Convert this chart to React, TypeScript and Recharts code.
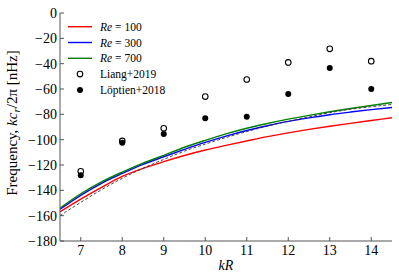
import { ComposedChart, Line, Scatter, XAxis, YAxis, Label } from "recharts";

// model curves sampled along kR
const kGrid = [6.5, 7, 7.5, 8, 8.5, 9, 9.5, 10, 10.5, 11, 11.5, 12, 12.5, 13, 13.5, 14, 14.5];
const re100 = [-157, -147, -137.7, -129, -122.7, -117.3, -112.5, -108.2, -104.5, -101, -97.6, -94.6, -91.9, -89.4, -87.1, -84.9, -82.7];
const re300 = [-155, -144, -134.5, -126.7, -119.5, -113.5, -107.7, -102.2, -97.2, -92.8, -89, -85.6, -82.8, -80.3, -78.2, -76.3, -74.6];
const re700 = [-154, -142.7, -133.3, -125.6, -118.5, -112.4, -106, -100.5, -95.4, -91, -87.2, -83.8, -80.8, -78, -75.4, -73, -70.7];
const refDashed = [-160, -149.5, -139.5, -130.5, -122.6, -115.6, -109, -103.5, -98.3, -93.6, -89.3, -85.5, -82, -78.7, -76, -74, -72.2];

// observations
const kObs = [7, 8, 9, 10, 11, 12, 13, 14];
const liang2019 = [-125, -101, -91, -66, -52.5, -39, -28.3, -38];
const loptien2018 = [-128, -102.5, -95.5, -83, -82, -64, -43.4, -60];

const xTicks = [7, 8, 9, 10, 11, 12, 13, 14];
const yTicks = [0, -20, -40, -60, -80, -100, -120, -140, -160, -180];

const FONT = "'Liberation Serif', 'DejaVu Serif', serif";
const AXIS = "#555";
const TICK_LEN = 4;

const pts = (xs: number[], ys: number[]) => xs.map((x, i) => ({ x, y: ys[i] }));
const fmt = (v: number) => (v < 0 ? "\u2212" + Math.abs(v) : String(v));

function BottomTick({ x, y, payload }: any) {
  return (
    <g>
      <line x1={x} y1={y} x2={x} y2={y - TICK_LEN} stroke={AXIS} />
      <text x={x} y={y + 4} dy="0.71em" textAnchor="middle" fontFamily={FONT} fontSize={14} fill="#000">
        {payload.value}
      </text>
    </g>
  );
}

function LeftTick({ x, y, payload }: any) {
  return (
    <g>
      <line x1={x} y1={y} x2={x + TICK_LEN} y2={y} stroke={AXIS} />
      <text x={x - 3} y={y} dy="0.35em" textAnchor="end" fontFamily={FONT} fontSize={14} fill="#000">
        {fmt(payload.value)}
      </text>
    </g>
  );
}

function TopTick({ x, y }: any) {
  return <line x1={x} y1={y} x2={x} y2={y + TICK_LEN} stroke={AXIS} />;
}

function RightTick({ x, y }: any) {
  return <line x1={x} y1={y} x2={x - TICK_LEN} y2={y} stroke={AXIS} />;
}

function OpenDot({ cx, cy }: any) {
  return <circle cx={cx} cy={cy} r={2.8} fill="#fff" stroke="#000" strokeWidth={1.1} />;
}

function FilledDot({ cx, cy }: any) {
  return <circle cx={cx} cy={cy} r={3} fill="#000" />;
}

function YLabel({ viewBox }: any) {
  const cx = 12;
  const cy = viewBox.y + viewBox.height / 2 - 4;
  return (
    <text
      x={cx}
      y={cy}
      transform={`rotate(-90 ${cx} ${cy})`}
      textAnchor="middle"
      dy="0.35em"
      fontFamily={FONT}
      fontSize={15}
      fill="#000"
    >
      Frequency, <tspan fontStyle="italic">kc</tspan>
      <tspan fontStyle="italic" fontSize={11} dy={3}>r</tspan>
      <tspan dy={-3}>/2π [nHz]</tspan>
    </text>
  );
}

function XLabel({ viewBox }: any) {
  return (
    <text
      x={viewBox.x + viewBox.width / 2}
      y={viewBox.y + 29}
      textAnchor="middle"
      fontFamily={FONT}
      fontSize={14}
      fontStyle="italic"
      fill="#000"
    >
      kR
    </text>
  );
}

const legendLines = [
  { label: "100", color: "#ff0000" },
  { label: "300", color: "#0000ff" },
  { label: "700", color: "#008000" },
];

function LegendBox() {
  const rowY = (i: number) => 26.7 + i * 15.8;
  return (
    <svg width={399} height={279} style={{ position: "absolute", left: 0, top: 0, pointerEvents: "none" }}>
      {legendLines.map((l, i) => (
        <g key={l.label}>
          <line x1={68} x2={92} y1={rowY(i)} y2={rowY(i)} stroke={l.color} strokeWidth={1.4} />
          <text x={100} y={rowY(i) + 4} fontFamily={FONT} fontSize={11.5} fill="#000">
            <tspan fontStyle="italic">Re</tspan> = {l.label}
          </text>
        </g>
      ))}
      <circle cx={80} cy={rowY(3)} r={2.8} fill="#fff" stroke="#000" strokeWidth={1.1} />
      <text x={100} y={rowY(3) + 4} fontFamily={FONT} fontSize={11.5} fill="#000">Liang+2019</text>
      <circle cx={80} cy={rowY(4)} r={3} fill="#000" />
      <text x={100} y={rowY(4) + 4} fontFamily={FONT} fontSize={11.5} fill="#000">Löptien+2018</text>
    </svg>
  );
}

export default function App() {
  return (
    <div style={{ position: "absolute", left: 0, top: 0, width: 399, height: 279, background: "#fff" }}>
      <ComposedChart width={399} height={279} margin={{ top: 13, right: 7, left: 0, bottom: 0 }}>
        <XAxis
          xAxisId="b"
          type="number"
          dataKey="x"
          domain={[6.5, 14.5]}
          ticks={xTicks}
          allowDataOverflow
          height={38}
          stroke={AXIS}
          tickSize={0}
          tickMargin={0}
          tick={<BottomTick />}
        >
          <Label content={<XLabel />} />
        </XAxis>
        <XAxis
          xAxisId="t"
          orientation="top"
          type="number"
          dataKey="x"
          domain={[6.5, 14.5]}
          ticks={xTicks}
          allowDataOverflow
          height={0}
          stroke={AXIS}
          tickSize={0}
          tickMargin={0}
          tick={<TopTick />}
        />
        <YAxis
          yAxisId="l"
          type="number"
          domain={[-180, 0]}
          ticks={yTicks}
          allowDataOverflow
          width={60}
          stroke={AXIS}
          tickSize={0}
          tickMargin={0}
          tick={<LeftTick />}
        >
          <Label content={<YLabel />} />
        </YAxis>
        <YAxis
          yAxisId="r"
          orientation="right"
          type="number"
          domain={[-180, 0]}
          ticks={yTicks}
          allowDataOverflow
          width={0}
          stroke={AXIS}
          tickSize={0}
          tickMargin={0}
          tick={<RightTick />}
        />
        <Line xAxisId="b" yAxisId="l" data={pts(kGrid, re100)} dataKey="y" type="monotone" stroke="#ff0000" strokeWidth={1.4} dot={false} isAnimationActive={false} />
        <Line xAxisId="b" yAxisId="l" data={pts(kGrid, re300)} dataKey="y" type="monotone" stroke="#0000ff" strokeWidth={1.4} dot={false} isAnimationActive={false} />
        <Line xAxisId="b" yAxisId="l" data={pts(kGrid, re700)} dataKey="y" type="monotone" stroke="#008000" strokeWidth={1.4} dot={false} isAnimationActive={false} />
        <Line xAxisId="b" yAxisId="l" data={pts(kGrid, refDashed)} dataKey="y" type="monotone" stroke="#333" strokeWidth={0.9} strokeDasharray="3 2" dot={false} isAnimationActive={false} />
        <Scatter xAxisId="b" yAxisId="l" data={pts(kObs, liang2019)} dataKey="y" shape={<OpenDot />} isAnimationActive={false} />
        <Scatter xAxisId="b" yAxisId="l" data={pts(kObs, loptien2018)} dataKey="y" shape={<FilledDot />} isAnimationActive={false} />
      </ComposedChart>
      <LegendBox />
    </div>
  );
}
